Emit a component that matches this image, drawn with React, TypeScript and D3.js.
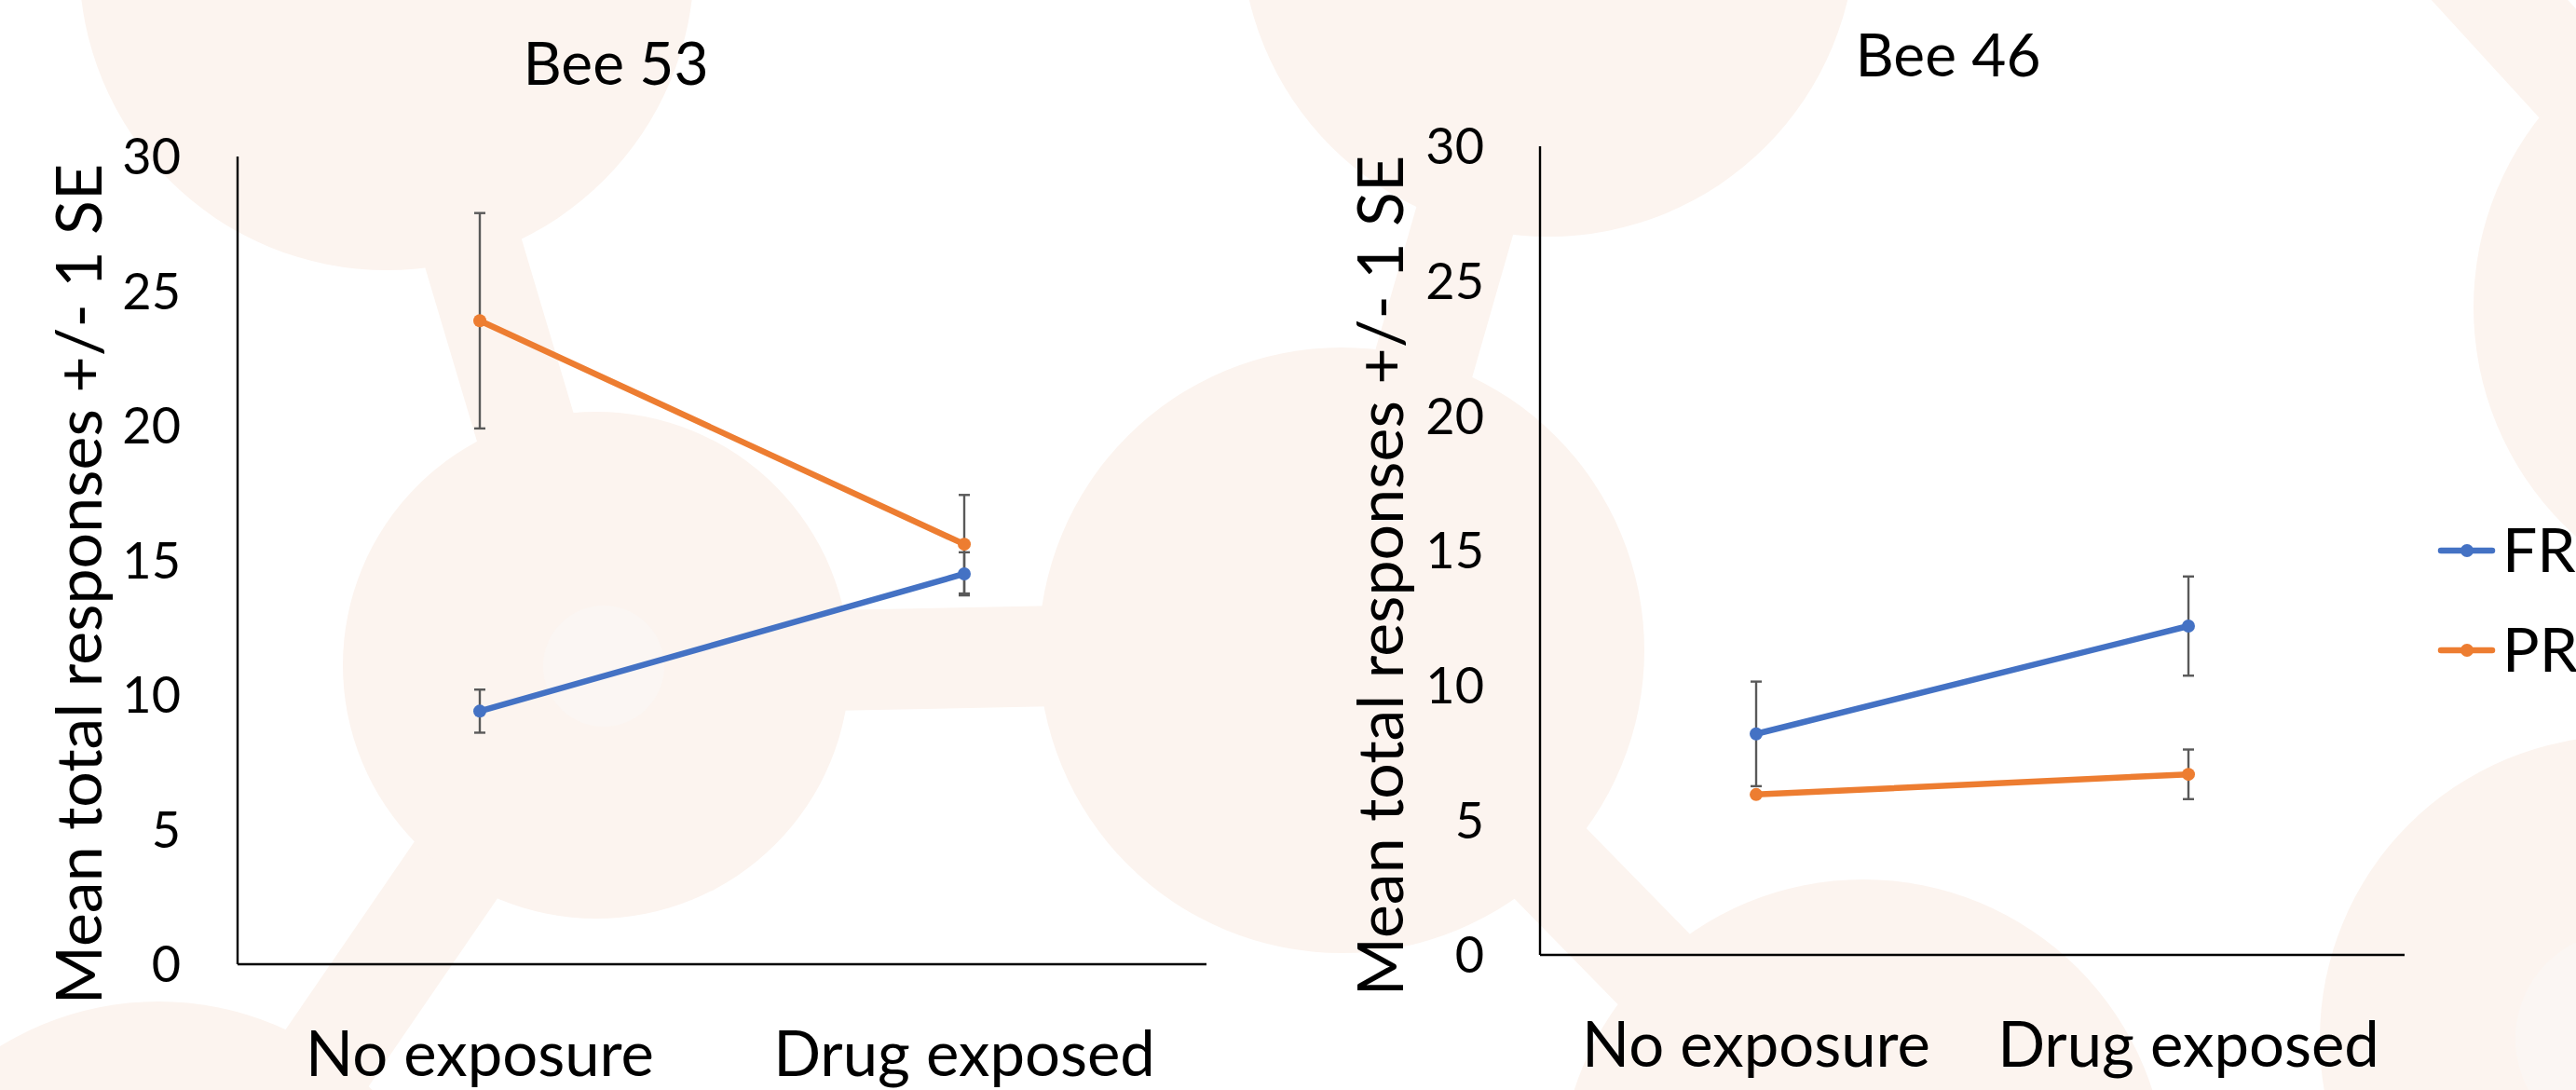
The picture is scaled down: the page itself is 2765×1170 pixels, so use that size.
import React from "react";
import * as d3 from "d3";

// values (mean, +/- 1 SE)
const categories = ["No exposure", "Drug exposed"];
const yTicks = [0, 5, 10, 15, 20, 25, 30];

const bee53FR = [9.4, 14.5];
const bee53FRse = [0.8, 0.8];
const bee53PR = [23.9, 15.6];
const bee53PRse = [4.0, 1.83];

const bee46FR = [8.2, 12.2];
const bee46FRse = [1.94, 1.84];
const bee46PR = [5.95, 6.7];
const bee46PRse = [0, 0.92];

const seriesNames = ["FR", "PR"];
const seriesColors = ["#4472C4", "#ED7D31"];

// faint watermark behind the charts
const backdropCircles = [
  { cx: 415, cy: -40, r: 330 },
  { cx: 640, cy: 714, r: 272 },
  { cx: 1440, cy: 698, r: 325 },
  { cx: 170, cy: 1400, r: 325 },
  { cx: 1662, cy: -76, r: 330 },
  { cx: 2985, cy: 330, r: 330 },
  { cx: 2815, cy: 1115, r: 325 },
  { cx: 2000, cy: 1270, r: 326 },
  { cx: 2500, cy: -200, r: 0 },
];
const backdropBonds = [
  [0, 1],
  [1, 2],
  [1, 3],
  [2, 4],
  [2, 7],
  [5, 8],
];

const W = 2765;
const H = 1170;
const FONT = "Lato, Carlito, Calibri, sans-serif";
const WASH = "#FCF4EF";

const panels = [
  {
    title: "Bee 53",
    fr: bee53FR, frSe: bee53FRse, pr: bee53PR, prSe: bee53PRse,
    x0: 255, x1: 1295, yTop: 168, yBottom: 1035,
    titleX: 661, titleY: 91, tickX: 194, axisTitleX: 109, axisTitleY: 627, catY: 1155,
  },
  {
    title: "Bee 46",
    fr: bee46FR, frSe: bee46FRse, pr: bee46PR, prSe: bee46PRse,
    x0: 1653, x1: 2581, yTop: 157, yBottom: 1025,
    titleX: 2091, titleY: 82, tickX: 1593, axisTitleX: 1506, axisTitleY: 618, catY: 1145,
  },
];

function Panel({ p }) {
  const x = d3.scaleBand().domain(categories).range([p.x0, p.x1]);
  const cx = (c) => x(c) + x.bandwidth() / 2;
  const y = d3.scaleLinear().domain([0, 30]).range([p.yBottom, p.yTop]);
  const line = d3.line().x((d) => cx(d.cat)).y((d) => y(d.v));

  const series = [
    { vals: p.fr, se: p.frSe, color: seriesColors[0] },
    { vals: p.pr, se: p.prSe, color: seriesColors[1] },
  ].map((s) => ({ ...s, pts: categories.map((cat, i) => ({ cat, v: s.vals[i], se: s.se[i] })) }));

  return (
    <g>
      <text x={p.titleX} y={p.titleY} textAnchor="middle" fontSize={64} fontFamily={FONT} fill="#000">
        {p.title}
      </text>
      <text
        transform={`translate(${p.axisTitleX},${p.axisTitleY}) rotate(-90)`}
        textAnchor="middle"
        fontSize={68}
        fontFamily={FONT}
        fill="#000"
      >
        Mean total responses +/- 1 SE
      </text>
      {yTicks.map((t) => (
        <text key={t} x={p.tickX} y={y(t)} dy="0.36em" textAnchor="end" fontSize={54} fontFamily={FONT} fill="#000">
          {t}
        </text>
      ))}
      {categories.map((c) => (
        <text key={c} x={cx(c)} y={p.catY} textAnchor="middle" fontSize={67} fontFamily={FONT} fill="#000">
          {c}
        </text>
      ))}
      <line x1={p.x0} x2={p.x0} y1={y(30)} y2={y(0)} stroke="#000" strokeWidth={2.4} />
      <line x1={p.x0} x2={p.x1} y1={y(0)} y2={y(0)} stroke="#000" strokeWidth={2.4} />

      {series.map((s, si) =>
        s.pts.map((d, i) =>
          d.se > 0 ? (
            <g key={`e${si}${i}`} stroke="#595959" strokeWidth={2.4}>
              <line x1={cx(d.cat)} x2={cx(d.cat)} y1={y(d.v - d.se)} y2={y(d.v + d.se)} />
              <line x1={cx(d.cat) - 6} x2={cx(d.cat) + 6} y1={y(d.v + d.se)} y2={y(d.v + d.se)} />
              <line x1={cx(d.cat) - 6} x2={cx(d.cat) + 6} y1={y(d.v - d.se)} y2={y(d.v - d.se)} />
            </g>
          ) : null
        )
      )}
      {series.map((s, si) => (
        <g key={`s${si}`}>
          <path d={line(s.pts)} fill="none" stroke={s.color} strokeWidth={6.5} strokeLinecap="round" />
          {s.pts.map((d, i) => (
            <circle key={i} cx={cx(d.cat)} cy={y(d.v)} r={7} fill={s.color} />
          ))}
        </g>
      ))}
    </g>
  );
}

export default function App() {
  const legendY = d3.scalePoint().domain(seriesNames).range([591, 698]);
  return (
    <div style={{ position: "fixed", left: 0, top: 0 }}>
      <svg width={W} height={H} viewBox={`0 0 ${W} ${H}`} style={{ display: "block", background: "#fff" }}>
        <g fill={WASH} stroke={WASH}>
          {backdropBonds.map(([a, b], i) => (
            <line
              key={i}
              x1={backdropCircles[a].cx}
              y1={backdropCircles[a].cy}
              x2={backdropCircles[b].cx}
              y2={backdropCircles[b].cy}
              strokeWidth={108}
            />
          ))}
          {backdropCircles.map((c, i) => (
            <circle key={i} cx={c.cx} cy={c.cy} r={c.r} stroke="none" />
          ))}
          <circle cx={648} cy={715} r={65} fill="#FBF6F3" stroke="none" />
          <circle cx={2815} cy={1115} r={115} fill="#FBF6F3" stroke="none" />
        </g>
        {panels.map((p) => (
          <Panel key={p.title} p={p} />
        ))}
        {seriesNames.map((n, i) => (
          <g key={n}>
            <line x1={2620} x2={2675} y1={legendY(n)} y2={legendY(n)} stroke={seriesColors[i]} strokeWidth={6.5} strokeLinecap="round" />
            <circle cx={2648} cy={legendY(n)} r={7} fill={seriesColors[i]} />
            <text x={2686} y={legendY(n) + 23} fontSize={66} fontFamily={FONT} fill="#000">
              {n}
            </text>
          </g>
        ))}
      </svg>
    </div>
  );
}
